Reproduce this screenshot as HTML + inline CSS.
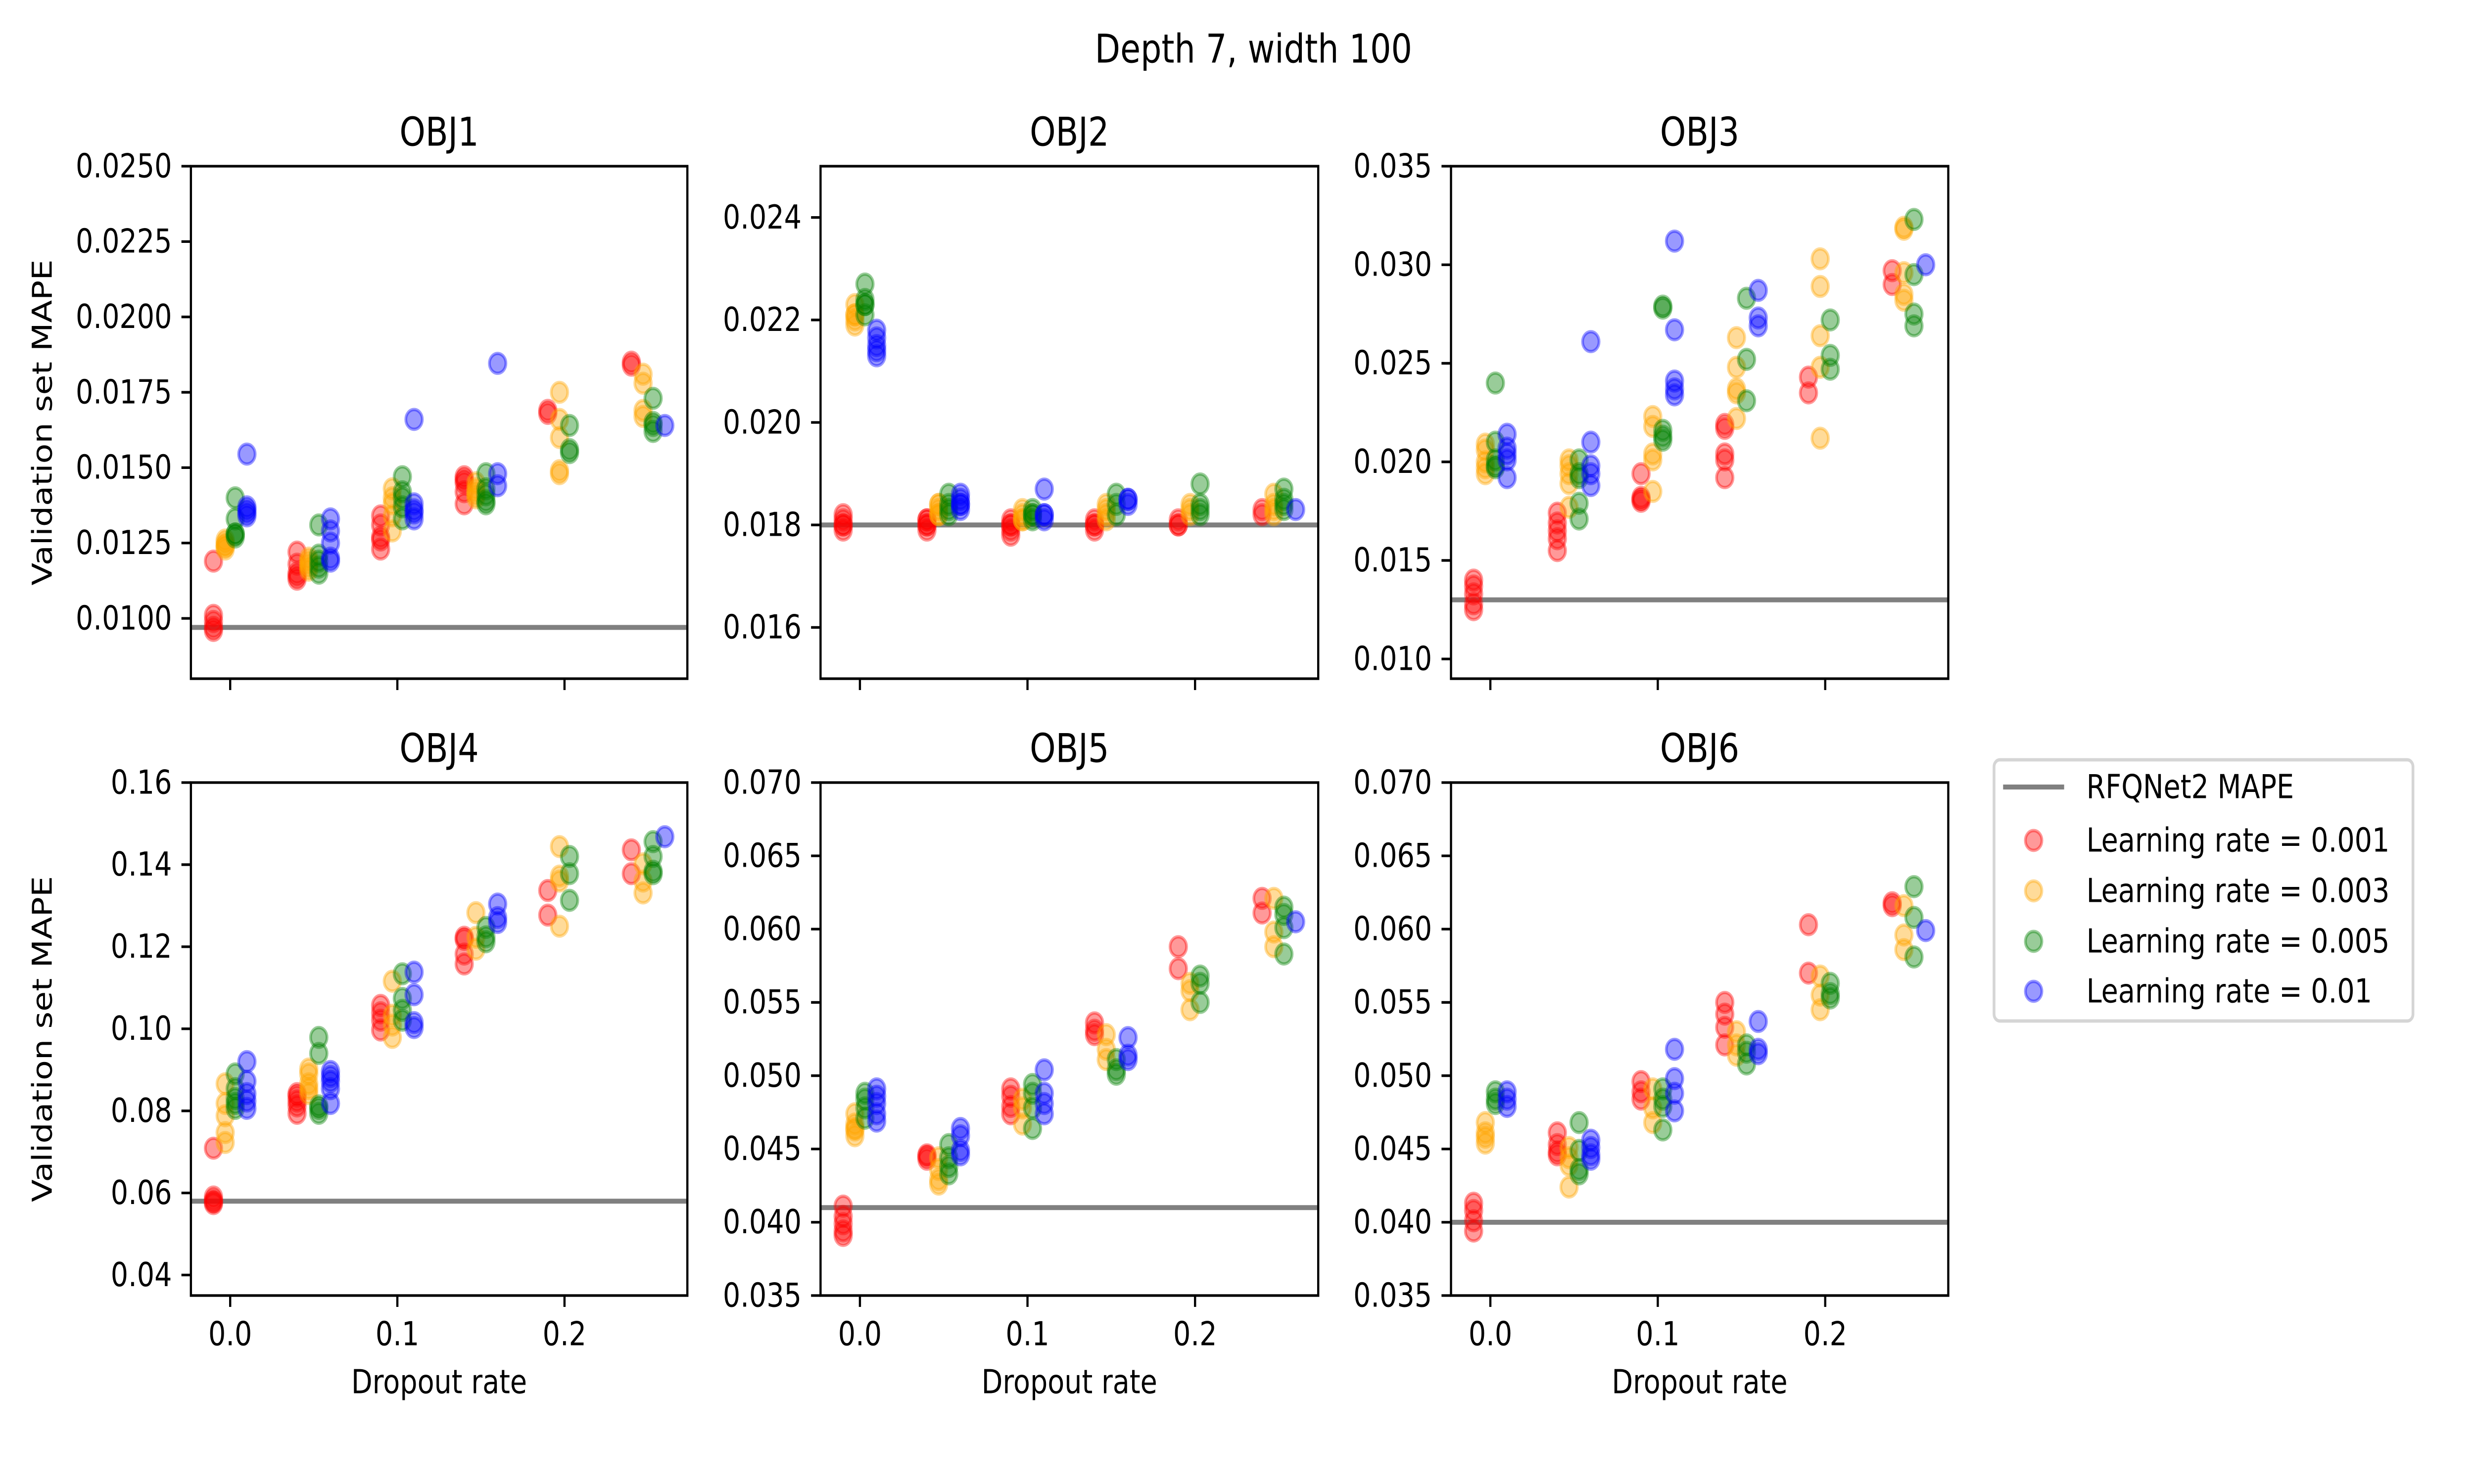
<!DOCTYPE html>
<html><head><meta charset="utf-8">
<style>
html,body{margin:0;padding:0;background:#fff;overflow:hidden;width:100%;height:100%;}
svg{display:block;width:100vw;height:100vh;}
text{font-family:"DejaVu Sans","Liberation Sans",sans-serif;fill:#000;}
</style></head>
<body>
<svg id="fig" xmlns="http://www.w3.org/2000/svg" viewBox="0 0 6000 3000" preserveAspectRatio="none">
<rect x="0" y="0" width="6000" height="3000" fill="#fff"/>
<text x="3040" y="100" font-size="80" text-anchor="middle" dominant-baseline="central">Depth 7, width 100</text>
<g id="panels"></g>
<g id="legend">
  <rect x="4836" y="1536" width="1016" height="528" rx="14" ry="14" fill="#fff" stroke="#d5d5d5" stroke-width="6.7"/>
  <line x1="4858" y1="1591" x2="5006" y2="1591" stroke="#808080" stroke-width="10"/>
  <text x="5060" y="1591" font-size="66.7" dominant-baseline="central">RFQNet2 MAPE</text>
  <circle cx="4932" cy="1699" r="20" fill="red" stroke="red" stroke-width="6.7" fill-opacity="0.4" stroke-opacity="0.4"/>
  <text x="5060" y="1699" font-size="66.7" dominant-baseline="central">Learning rate = 0.001</text>
  <circle cx="4932" cy="1801" r="20" fill="orange" stroke="orange" stroke-width="6.7" fill-opacity="0.4" stroke-opacity="0.4"/>
  <text x="5060" y="1801" font-size="66.7" dominant-baseline="central">Learning rate = 0.003</text>
  <circle cx="4932" cy="1903" r="20" fill="green" stroke="green" stroke-width="6.7" fill-opacity="0.4" stroke-opacity="0.4"/>
  <text x="5060" y="1903" font-size="66.7" dominant-baseline="central">Learning rate = 0.005</text>
  <circle cx="4932" cy="2004" r="20" fill="blue" stroke="blue" stroke-width="6.7" fill-opacity="0.4" stroke-opacity="0.4"/>
  <text x="5060" y="2004" font-size="66.7" dominant-baseline="central">Learning rate = 0.01</text>
</g>
</svg>
<script>
// ---- data ----
const dropouts = [0, 0.05, 0.1, 0.15, 0.2, 0.25];
const lrLabels = ["0.001", "0.003", "0.005", "0.01"];
const lrColors = ["red", "orange", "green", "blue"];
const lrOffsets = [-0.01, -0.003, 0.003, 0.01];
const panelNames = ["OBJ1", "OBJ2", "OBJ3", "OBJ4", "OBJ5", "OBJ6"];
const refValues = [0.0097, 0.0180, 0.0130, 0.058, 0.041, 0.040];
const yLimits = [[0.0080, 0.0250], [0.015, 0.025], [0.0090, 0.035], [0.035, 0.16], [0.035, 0.07], [0.035, 0.07]];
const yTicks1 = ["0.0100", "0.0125", "0.0150", "0.0175", "0.0200", "0.0225", "0.0250"];
const yTicks2 = ["0.016", "0.018", "0.020", "0.022", "0.024"];
const yTicks3 = ["0.010", "0.015", "0.020", "0.025", "0.030", "0.035"];
const yTicks4 = ["0.04", "0.06", "0.08", "0.10", "0.12", "0.14", "0.16"];
const yTicks5 = ["0.035", "0.040", "0.045", "0.050", "0.055", "0.060", "0.065", "0.070"];
const yTicks6 = ["0.035", "0.040", "0.045", "0.050", "0.055", "0.060", "0.065", "0.070"];
const xTicks = ["0.0", "0.1", "0.2"];

const obj1 = [
  [[0.0119,0.0101,0.0099,0.0097,0.0096],[0.0122,0.0118,0.0115,0.0114,0.0113],[0.0134,0.0131,0.0127,0.0126,0.0123],[0.0147,0.0146,0.0145,0.0142,0.0138],[0.0169,0.0168],[0.0185,0.0184]],
  [[0.0126,0.0124,0.0123,0.0125,0.0124],[0.0120,0.0118,0.0117,0.0119,0.0116],[0.0143,0.0140,0.0138,0.0134,0.0129],[0.0145,0.0143,0.0142,0.0141,0.0140],[0.0175,0.0166,0.0160,0.0149,0.0148],[0.0181,0.0178,0.0169,0.0167]],
  [[0.0140,0.0133,0.0128,0.0127,0.0128],[0.0131,0.0121,0.0119,0.0117,0.0115],[0.0147,0.0142,0.0140,0.0137,0.0133],[0.0148,0.0143,0.0139,0.0138,0.0141],[0.0164,0.0156,0.0155],[0.0173,0.0165,0.0164,0.0162]],
  [[0.01545,0.0137,0.0136,0.0134,0.0135],[0.0133,0.0129,0.0125,0.0120,0.0119],[0.0166,0.0138,0.0136,0.0135,0.0133],[0.01846,0.0148,0.0144],[],[0.0164]]
];
const obj2 = [
  [[0.0182,0.0181,0.0180,0.0180,0.0179],[0.0181,0.0180,0.0179,0.0181,0.0180],[0.0181,0.0180,0.0179,0.0178,0.0180],[0.0181,0.0180,0.0179,0.0180],[0.0181,0.0180,0.0180],[0.0183,0.0182]],
  [[0.0223,0.0221,0.0220,0.0219,0.0221],[0.0184,0.0183,0.0182,0.0184,0.0182],[0.0183,0.0182,0.0181,0.0181],[0.0184,0.0183,0.0182,0.0181],[0.0184,0.0183,0.0182],[0.0186,0.0184,0.0183,0.0182]],
  [[0.0227,0.0224,0.0223,0.0223,0.0221],[0.0186,0.0184,0.0183,0.0182],[0.0183,0.0182,0.0181,0.0182],[0.0186,0.0184,0.0182],[0.0188,0.0184,0.0183,0.0182],[0.0187,0.0185,0.0184,0.0183]],
  [[0.0218,0.02165,0.0215,0.0214,0.0213],[0.0186,0.0185,0.0184,0.0184,0.0183],[0.0187,0.0182,0.0181,0.0182],[0.0185,0.0185,0.0184],[],[0.0183]]
];
const obj3 = [
  [[0.0140,0.0137,0.0133,0.0128,0.0125],[0.0174,0.0169,0.0165,0.0161,0.0155],[0.0194,0.0182,0.0180,0.0181],[0.0219,0.0217,0.0204,0.0201,0.0192],[0.0243,0.0235],[0.0297,0.0290]],
  [[0.0209,0.0206,0.0200,0.0197,0.0194],[0.0201,0.0198,0.0194,0.0189,0.0177],[0.0223,0.0218,0.0204,0.0201,0.0185],[0.0263,0.0248,0.0237,0.0235,0.0222],[0.0303,0.0289,0.0264,0.0248,0.0212],[0.0319,0.0318,0.0296,0.0285,0.0282]],
  [[0.0240,0.0210,0.0201,0.0198,0.0197],[0.0201,0.0194,0.0192,0.0179,0.0171],[0.0279,0.0278,0.0216,0.0213,0.0211],[0.0283,0.0252,0.0231],[0.0272,0.0254,0.0247],[0.0323,0.0295,0.0275,0.0269]],
  [[0.0214,0.0207,0.0204,0.0201,0.0192],[0.0261,0.0210,0.0198,0.0194,0.0188],[0.0312,0.0267,0.0241,0.0237,0.0234],[0.0287,0.0273,0.0269],[],[0.0300]]
];
const obj4 = [
  [[0.0709,0.0590,0.0582,0.0578,0.0574],[0.0842,0.0836,0.0824,0.0812,0.0794],[0.1057,0.1039,0.1021,0.0997],[0.1223,0.1218,0.1182,0.1158],[0.1337,0.1277],[0.1436,0.1378]],
  [[0.0866,0.0818,0.0788,0.0747,0.0723],[0.0902,0.0890,0.0866,0.0854,0.0842],[0.1116,0.1033,0.1009,0.0979],[0.1283,0.1223,0.1194],[0.1444,0.1372,0.1360,0.1250],[0.1402,0.1360,0.1331]],
  [[0.0890,0.0854,0.0830,0.0806,0.0818],[0.0979,0.0940,0.0812,0.0806,0.0794],[0.1134,0.1074,0.1045,0.1021],[0.1247,0.1212,0.1224],[0.1420,0.1378,0.1313],[0.1456,0.1420,0.1384,0.1378]],
  [[0.0920,0.0872,0.0842,0.0824,0.0806],[0.0896,0.0884,0.0872,0.0854,0.0818],[0.1138,0.1083,0.1015,0.1003],[0.1304,0.1271,0.1259],[],[0.1468]]
];
const obj5 = [
  [[0.0411,0.0404,0.0399,0.0394,0.0391],[0.0446,0.0445,0.0443],[0.0491,0.0486,0.0479,0.0474],[0.0536,0.0531,0.0528],[0.0588,0.0573],[0.0621,0.0611]],
  [[0.0474,0.0467,0.0464,0.0463,0.0459],[0.0444,0.0436,0.0429,0.0426],[0.0484,0.0478,0.0467],[0.0528,0.0518,0.0511],[0.0563,0.0558,0.0545],[0.0621,0.0598,0.0588]],
  [[0.0488,0.0484,0.0478,0.0471],[0.0453,0.0444,0.0438,0.0433],[0.0494,0.0488,0.0478,0.0464],[0.0511,0.0504,0.0501],[0.0568,0.0563,0.0550],[0.0615,0.0610,0.0601,0.0583]],
  [[0.0491,0.0486,0.0481,0.0474,0.0469],[0.0464,0.0459,0.0449,0.0446],[0.0504,0.0488,0.0481,0.0474],[0.0526,0.0514,0.0511],[],[0.0605]]
];
const obj6 = [
  [[0.0413,0.0408,0.0401,0.0394],[0.0461,0.0453,0.0448,0.0446],[0.0496,0.0489,0.0484],[0.0550,0.0542,0.0533,0.0521],[0.0603,0.0570],[0.0618,0.0616]],
  [[0.0468,0.0461,0.0458,0.0454],[0.0451,0.0444,0.0439,0.0424],[0.0491,0.0478,0.0468],[0.0530,0.0521,0.0514],[0.0568,0.0555,0.0545],[0.0616,0.0596,0.0586]],
  [[0.0489,0.0484,0.0481],[0.0468,0.0449,0.0436,0.0433],[0.0491,0.0484,0.0479,0.0463],[0.0521,0.0516,0.0508],[0.0563,0.0556,0.0553],[0.0629,0.0608,0.0581]],
  [[0.0489,0.0484,0.0479],[0.0456,0.0451,0.0446,0.0443],[0.0518,0.0498,0.0488,0.0476],[0.0537,0.0518,0.0515],[],[0.0599]]
];
const panelData = [obj1, obj2, obj3, obj4, obj5, obj6];
const panelTicks = [yTicks1, yTicks2, yTicks3, yTicks4, yTicks5, yTicks6];

// ---- layout ----
const NS = "http://www.w3.org/2000/svg";
const colX = [[463, 1667], [1990, 3197], [3519, 4725]];
const rowY = [[336, 1372], [1582, 2619]];
const xMin = -0.0235, xMax = 0.2735;
function mk(tag, attrs, parent) {
  const e = document.createElementNS(NS, tag);
  for (const k in attrs) e.setAttribute(k, attrs[k]);
  parent.appendChild(e);
  return e;
}
const root = document.getElementById("panels");
panelNames.forEach((name, p) => {
  const col = p % 3, row = Math.floor(p / 3);
  const [L, R] = colX[col], [T, B] = rowY[row];
  const [y0, y1] = yLimits[p];
  const sx = v => L + (v - xMin) / (xMax - xMin) * (R - L);
  const sy = v => B - (v - y0) / (y1 - y0) * (B - T);
  const g = mk("g", {}, root);
  
  
  const title = mk("text", {x: (L + R) / 2, y: T - 68, "font-size": 80, "text-anchor": "middle", "dominant-baseline": "central"}, g);
  title.textContent = name;
  
  
  const cid = "clip" + p;
  const cp = mk("clipPath", {id: cid}, g);
  mk("rect", {x: L, y: T, width: R - L, height: B - T}, cp);
  const rl = mk("line", {x1: L, x2: R, y1: sy(refValues[p]), y2: sy(refValues[p]), stroke: "#808080", "stroke-width": 10}, g);
  
  
  const data = panelData[p];
  data.forEach((byDrop, li) => {
    const sg = mk("g", {"clip-path": "url(#" + cid + ")"}, g);
    
    
    byDrop.forEach((vals, di) => {
      vals.forEach(v => {
        const c = mk("circle", {cx: sx(dropouts[di] + lrOffsets[li]), cy: sy(v), r: 20, fill: lrColors[li], stroke: lrColors[li], "stroke-width": 6.7, "fill-opacity": 0.4, "stroke-opacity": 0.4}, sg);
        
        
      });
    });
  });
  const fr = mk("rect", {x: L, y: T, width: R - L, height: B - T, fill: "none", stroke: "#000", "stroke-width": 5.3}, g);
  
  
  panelTicks[p].forEach(t => {
    const y = sy(parseFloat(t));
    mk("line", {x1: L - 23, x2: L, y1: y, y2: y, stroke: "#000", "stroke-width": 5.3}, g);
    const tl = mk("text", {x: L - 46, y: y, "font-size": 66.7, "text-anchor": "end", "dominant-baseline": "central"}, g);
    tl.textContent = t;
    
    
  });
  xTicks.forEach(t => {
    const x = sx(parseFloat(t));
    mk("line", {x1: x, x2: x, y1: B, y2: B + 23, stroke: "#000", "stroke-width": 5.3}, g);
    if (row === 1) {
      const tl = mk("text", {x: x, y: B + 78, "font-size": 66.7, "text-anchor": "middle", "dominant-baseline": "central"}, g);
      tl.textContent = t;
      
      
    }
  });
  if (row === 1) {
    const xl = mk("text", {x: (L + R) / 2, y: B + 175, "font-size": 66.7, "text-anchor": "middle", "dominant-baseline": "central"}, g);
    xl.textContent = "Dropout rate";
    
    
  }
  if (col === 0) {
    const cy = (T + B) / 2;
    const yl = mk("text", {x: 103, y: cy, "font-size": 66.7, "text-anchor": "middle", "dominant-baseline": "central", transform: "rotate(-90 103 " + cy + ")"}, g);
    yl.textContent = "Validation set MAPE";
    
    
  }
});
</script>
</body></html>
